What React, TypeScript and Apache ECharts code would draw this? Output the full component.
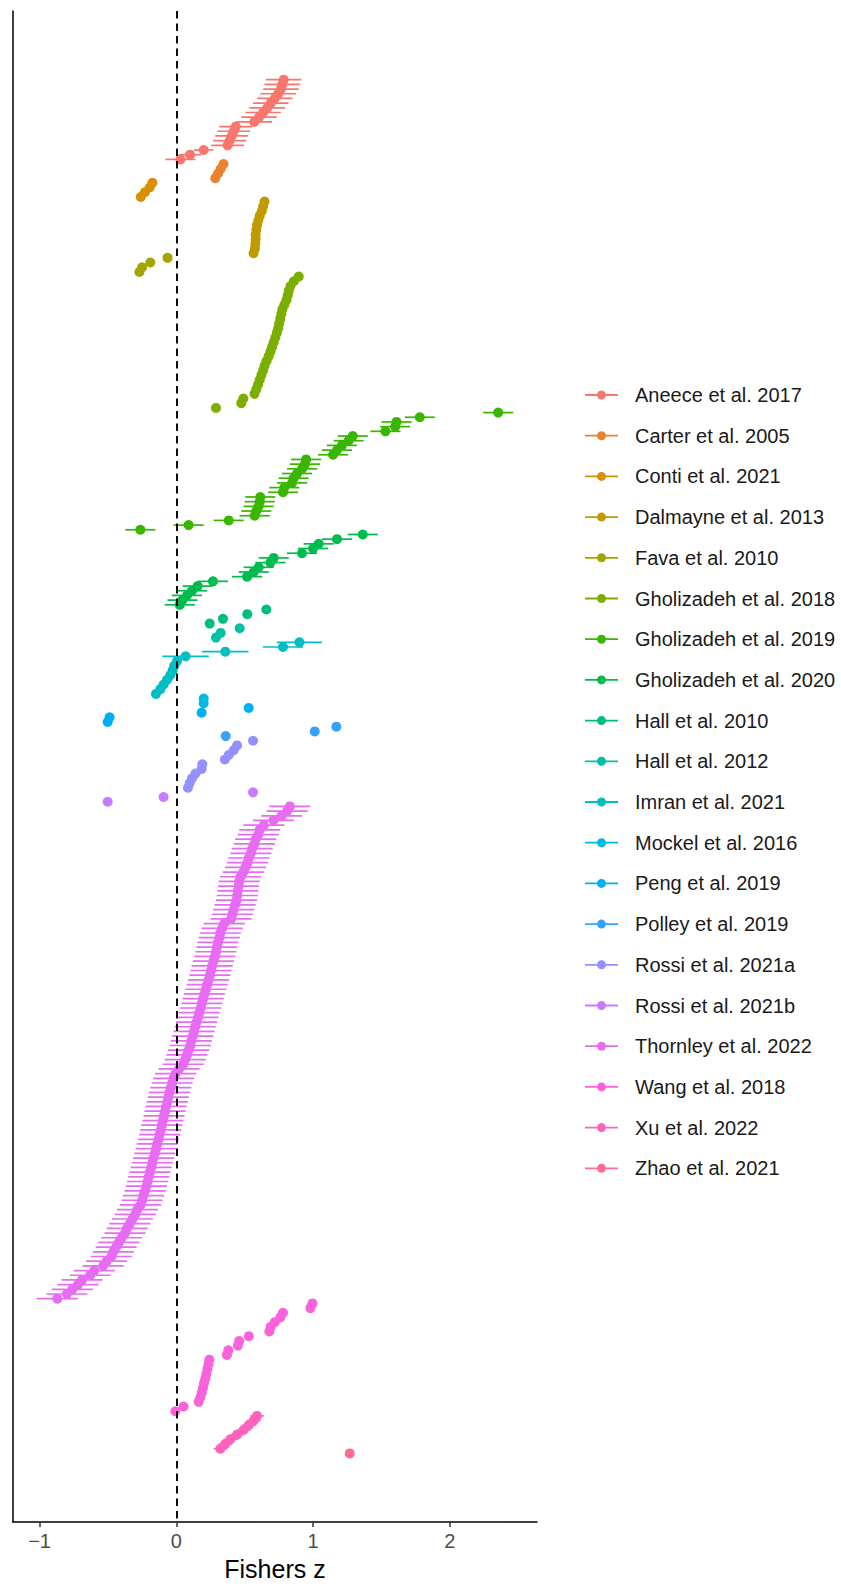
import React, { useEffect, useRef } from "react";
import * as echarts from "echarts";

const studyNames = [
  "Aneece et al. 2017", "Carter et al. 2005", "Conti et al. 2021", "Dalmayne et al. 2013",
  "Fava et al. 2010", "Gholizadeh et al. 2018", "Gholizadeh et al. 2019", "Gholizadeh et al. 2020",
  "Hall et al. 2010", "Hall et al. 2012", "Imran et al. 2021", "Mockel et al. 2016",
  "Peng et al. 2019", "Polley et al. 2019", "Rossi et al. 2021a", "Rossi et al. 2021b",
  "Thornley et al. 2022", "Wang et al. 2018", "Xu et al. 2022", "Zhao et al. 2021",
];

const studyColors = [
  "#F8766D", "#EA8331", "#D89000", "#C09B00", "#A3A500", "#7CAE00", "#39B600", "#00BB4E",
  "#00BF7D", "#00C1A3", "#00BFC4", "#00BAE0", "#00B0F6", "#35A2FF", "#9590FF", "#C77CFF",
  "#E76BF3", "#FA62DB", "#FF62BC", "#FF6C91",
];

// Fisher z per effect size, top to bottom within each study
const aneece = [0.785, 0.775, 0.765, 0.745, 0.72, 0.69, 0.665, 0.635, 0.605, 0.57, 0.435, 0.42, 0.405, 0.39, 0.375, 0.2, 0.1, 0.03];
const aneeceCI = [0.13, 0.13, 0.13, 0.13, 0.13, 0.13, 0.13, 0.13, 0.13, 0.13, 0.12, 0.12, 0.12, 0.12, 0.12, 0.07, 0.08, 0.11];
const carter = [0.345, 0.325, 0.305, 0.285];
const conti = [-0.175, -0.195, -0.23, -0.26];
const dalmayne = [0.645, 0.635, 0.625, 0.61, 0.6, 0.59, 0.585, 0.58, 0.58, 0.578, 0.575, 0.565];
const fava = [-0.064, -0.19, -0.25, -0.27];
const gh2018 = [0.895, 0.86, 0.835, 0.822, 0.815, 0.805, 0.79, 0.775, 0.768, 0.76, 0.752, 0.745, 0.735, 0.724, 0.712, 0.7, 0.688, 0.675, 0.66, 0.645, 0.635, 0.622, 0.61, 0.598, 0.585, 0.572, 0.49, 0.475, 0.29];
const gh2019 = [2.353, 1.78, 1.61, 1.6, 1.529, 1.29, 1.26, 1.21, 1.175, 1.146, 0.949, 0.94, 0.92, 0.883, 0.858, 0.846, 0.79, 0.78, 0.614, 0.61, 0.602, 0.585, 0.573, 0.383, 0.09, -0.263];
const gh2020 = [1.363, 1.175, 1.041, 1.0, 0.919, 0.712, 0.688, 0.602, 0.566, 0.517, 0.268, 0.156, 0.115, 0.078, 0.045, 0.025];
const hall2010 = [0.658, 0.519, 0.341, 0.244];
const hall2012 = [0.463, 0.324, 0.29];
const imran = [0.9, 0.78, 0.358, 0.068, 0.005, -0.015, -0.027, -0.044, -0.068, -0.093, -0.117, -0.149];
const imranCI = [0.165, 0.146, 0.17, 0.17, 0.03, 0.03, 0.03, 0.03, 0.03, 0.03, 0.03, 0.03];
const mockel = [0.2, 0.2];
const peng = [0.529, 0.185, -0.488, -0.502];
const polley = [1.17, 1.012, 0.361];
const rossiA = [0.561, 0.444, 0.42, 0.385, 0.355, 0.19, 0.185, 0.14, 0.115, 0.098, 0.085];
const rossiB = [0.561, -0.093, -0.502];
const thornley = [
  0.83, 0.81, 0.77, 0.71, 0.64, 0.61, 0.6, 0.58, 0.57, 0.555,
  0.545, 0.53, 0.52, 0.505, 0.49, 0.47, 0.46, 0.455, 0.45, 0.445,
  0.44, 0.43, 0.42, 0.41, 0.4, 0.35, 0.335, 0.322, 0.315, 0.305,
  0.297, 0.29, 0.282, 0.272, 0.262, 0.254, 0.246, 0.236, 0.226, 0.216,
  0.205, 0.196, 0.187, 0.178, 0.168, 0.158, 0.148, 0.138, 0.13, 0.12,
  0.11, 0.103, 0.09, 0.078, 0.065, 0.05, 0.02, -0.005, -0.02, -0.03,
  -0.04, -0.05, -0.058, -0.066, -0.074, -0.082, -0.09, -0.098, -0.106, -0.114,
  -0.122, -0.13, -0.14, -0.148, -0.157, -0.166, -0.175, -0.184, -0.193, -0.202,
  -0.21, -0.218, -0.228, -0.24, -0.25, -0.262, -0.285, -0.3, -0.32, -0.34,
  -0.36, -0.375, -0.4, -0.42, -0.44, -0.46, -0.475, -0.51, -0.535, -0.6,
  -0.63, -0.69, -0.72, -0.76, -0.8, -0.87,
];
const wang = [0.995, 0.98, 0.78, 0.76, 0.72, 0.69, 0.68, 0.53, 0.46, 0.45, 0.38, 0.37, 0.241, 0.235, 0.228, 0.22, 0.212, 0.203, 0.195, 0.186, 0.176, 0.163, 0.053, -0.007];
const xu = [0.59, 0.566, 0.529, 0.492, 0.444, 0.395, 0.358, 0.322];
const zhao = [1.268];

// 95% CI half-widths (scalar per study, or per effect)
const studyValues = [aneece, carter, conti, dalmayne, fava, gh2018, gh2019, gh2020, hall2010, hall2012, imran, mockel, peng, polley, rossiA, rossiB, thornley, wang, xu, zhao];
const studyCI: (number | number[])[] = [aneeceCI, 0, 0, 0.02, 0, 0.025, 0.11, 0.11, 0, 0, imranCI, 0, 0, 0, 0, 0, 0.15, 0, 0.05, 0];

const xTicks = [-1, 0, 1, 2];

const FONT = "'Liberation Sans', Arial, Helvetica, sans-serif";

export default function App() {
  const ref = useRef<HTMLDivElement>(null);
  useEffect(() => {
    if (!ref.current) return;
    const chart = echarts.init(ref.current, null, { renderer: "svg" });

    const barSeries: any[] = [];
    const pointSeries: any[] = [];
    let row = 0;
    let maxX = -Infinity;
    let minX = Infinity;
    studyValues.forEach((vals, k) => {
      const ci = studyCI[k];
      const bars: number[][] = [];
      const pts: number[][] = [];
      vals.forEach((v, i) => {
        const h = Array.isArray(ci) ? ci[i] : ci;
        bars.push([v - h, v + h, row]);
        pts.push([v, row]);
        minX = Math.min(minX, v - h);
        maxX = Math.max(maxX, v + h);
        row++;
      });
      const color = studyColors[k];
      barSeries.push({
        type: "custom",
        name: studyNames[k],
        itemStyle: { color },
        silent: true,
        z: 2,
        encode: { x: [0, 1], y: 2 },
        data: bars,
        renderItem: (params: any, api: any) => {
          const p1 = api.coord([api.value(0), api.value(2)]);
          const p2 = api.coord([api.value(1), api.value(2)]);
          return {
            type: "line",
            shape: { x1: p1[0], y1: p1[1], x2: p2[0], y2: p2[1] },
            style: { stroke: color, lineWidth: 1.7 },
          };
        },
      });
      pointSeries.push({
        type: "scatter",
        name: studyNames[k],
        symbol: "circle",
        symbolSize: 10,
        itemStyle: { color, opacity: 1 },
        silent: true,
        z: 3,
        data: pts,
      });
    });

    const nRows = row;
    const xPad = 0.05 * (maxX - minX);
    const yPad = 0.05 * (nRows - 1);

    chart.setOption({
      animation: false,
      backgroundColor: "#ffffff",
      grid: { left: 13, right: 304, top: 11, bottom: 58.5, containLabel: false },
      xAxis: {
        type: "value",
        min: minX - xPad,
        max: maxX + xPad,
        axisLine: { show: true, onZero: false, lineStyle: { color: "#000", width: 1.5 } },
        axisTick: { show: true, length: 5, customValues: xTicks, lineStyle: { color: "#333", width: 1.5 } },
        axisLabel: {
          customValues: xTicks,
          color: "#4D4D4D",
          fontSize: 20,
          fontFamily: FONT,
          margin: 9,
          formatter: (v: number) => (v < 0 ? "\u2212" + Math.abs(v) : String(v)),
        },
        splitLine: { show: false },
        name: "Fishers z",
        nameLocation: "middle",
        nameGap: 33,
        nameTextStyle: { color: "#000", fontSize: 25, fontFamily: FONT },
      },
      yAxis: {
        type: "value",
        inverse: true,
        min: -yPad,
        max: nRows - 1 + yPad,
        axisLine: { show: true, onZero: false, lineStyle: { color: "#000", width: 1.5 } },
        axisTick: { show: false },
        axisLabel: { show: false },
        splitLine: { show: false },
      },
      legend: {
        orient: "vertical",
        left: 580,
        top: 380,
        itemWidth: 33,
        itemHeight: 9,
        itemGap: 20.7,
        selectedMode: false,
        icon: "path://M0,4.1H33V5.9H0Z M12,5A4.5,4.5 0 1 1 21,5A4.5,4.5 0 1 1 12,5Z",
        textStyle: { fontSize: 20, color: "#1a1a1a", fontFamily: FONT, lineHeight: 20, padding: [0, 0, 0, 12] },
        data: studyNames,
      },
      series: [
        ...barSeries,
        ...pointSeries,
        {
          type: "scatter",
          name: "zero",
          data: [],
          silent: true,
          z: 10,
          markLine: {
            silent: true,
            symbol: "none",
            label: { show: false },
            lineStyle: { color: "#000", type: [7.5, 5], width: 1.9 },
            data: [{ xAxis: 0 }],
          },
        },
      ],
    });
    return () => chart.dispose();
  }, []);
  return (
    <div
      ref={ref}
      style={{ position: "absolute", left: 0, top: 0, width: 841, height: 1586, background: "#fff" }}
    />
  );
}
